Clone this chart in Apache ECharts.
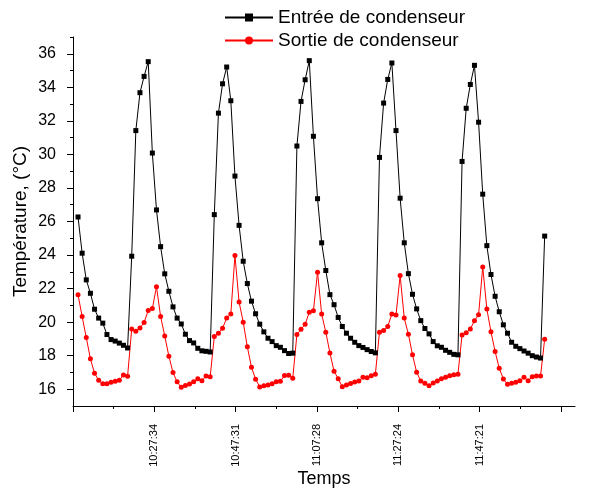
<!DOCTYPE html>
<html>
<head>
<meta charset="utf-8">
<script src="https://cdn.jsdelivr.net/npm/echarts@6/dist/echarts.min.js"></script>
<style>
  html, body { margin: 0; padding: 0; background: #fff; }
  #main { width: 603px; height: 489px; }
</style>
</head>
<body>
<div id="main"></div>
<script>
// readings about once a minute, x axis counted in seconds from 10:07:37
const seriesNames = ['Entrée de condenseur', 'Sortie de condenseur'];
const tickLabels = ['', '10:27:34', '10:47:31', '11:07:28', '11:27:24', '11:47:21', ''];
const yTickValues = [16, 18, 20, 22, 24, 26, 28, 30, 32, 34, 36];
const yMinorValues = [17, 19, 21, 23, 25, 27, 29, 31, 33, 35, 37];

const majorStep = 1197;   // seconds between labelled ticks
const firstSample = 74;   // first reading, seconds after axis origin
const sampleStep = 60.8;  // seconds between readings
const axisEnd = 7391;

const entree = [
  26.27, 24.11, 22.52, 21.72, 20.77, 20.24, 19.94, 19.26, 18.96, 18.87,
  18.75, 18.62, 18.46, 23.93, 31.42, 33.68, 34.65, 35.53, 30.08, 26.69,
  24.50, 22.88, 21.84, 20.91, 20.24, 19.89, 19.28, 18.90, 18.76, 18.44,
  18.29, 18.26, 18.22,
  26.41, 32.46, 34.21, 35.21, 33.20, 28.71, 25.77, 23.63, 22.30, 21.25,
  20.50, 19.88, 19.42, 19.04, 18.84, 18.60, 18.50, 18.30, 18.13, 18.15,
  30.50, 33.16, 34.45, 35.59, 31.08, 27.36, 24.73, 23.08, 21.64, 21.04,
  20.28, 19.74, 19.34, 19.04, 18.80, 18.60, 18.49, 18.36, 18.25, 18.17,
  29.82, 33.06, 34.47, 35.45, 31.42, 27.39, 24.73, 22.89, 21.66, 20.79,
  20.09, 19.62, 19.30, 18.84, 18.59, 18.50, 18.32, 18.20, 18.08, 18.05,
  29.58, 32.75, 34.17, 35.31, 31.92, 27.63, 24.56, 22.84, 21.54, 20.62,
  19.84, 19.34, 18.80, 18.56, 18.42, 18.28, 18.15, 18.00, 17.92, 17.86,
  25.13
];

const sortie = [
  21.64, 20.33, 19.08, 17.81, 16.95, 16.53, 16.32, 16.33, 16.42, 16.48,
  16.53, 16.85, 16.78, 19.59, 19.46, 19.65, 19.98, 20.70, 20.81, 22.11,
  20.34, 19.17, 17.97, 16.99, 16.44, 16.12, 16.22, 16.31, 16.45, 16.63,
  16.51, 16.79, 16.75,
  19.14, 19.34, 19.64, 20.24, 20.48, 23.98, 21.20, 20.00, 18.53, 17.31,
  16.60, 16.14, 16.20, 16.25, 16.33, 16.44, 16.48, 16.82, 16.84, 16.65,
  19.26, 19.57, 19.88, 20.59, 20.68, 22.98, 20.48, 19.40, 18.16, 17.07,
  16.63, 16.15, 16.25, 16.34, 16.43, 16.49, 16.72, 16.68, 16.80, 16.89,
  19.40, 19.50, 19.74, 20.49, 20.42, 22.78, 20.24, 19.28, 18.05, 17.01,
  16.49, 16.35, 16.20, 16.37, 16.49, 16.63, 16.72, 16.80, 16.87, 16.90,
  19.24, 19.36, 19.59, 20.08, 20.44, 23.29, 20.78, 19.42, 18.25, 17.25,
  16.61, 16.29, 16.35, 16.42, 16.50, 16.72, 16.51, 16.75, 16.79, 16.79,
  18.98
];

const font = 'Liberation Sans';
const toPoints = (vals) => vals.map((v, i) => [firstSample + i * sampleStep, v]);

const majorTicks = tickLabels.map((t, i) => i * majorStep);
const minorTicks = tickLabels.map((t, i) => (i + 0.5) * majorStep).filter((v) => v < axisEnd);
const labelTicks = majorTicks.filter((v, i) => tickLabels[i] !== '');

const chart = echarts.init(document.getElementById('main'));

chart.setOption({
  animation: false,
  backgroundColor: '#fff',
  textStyle: { fontFamily: font, color: '#000' },
  legend: {
    orient: 'vertical',
    left: 224,
    top: 8,
    padding: 0,
    itemWidth: 48,
    itemHeight: 10,
    itemGap: 4,
    textStyle: { fontFamily: font, fontSize: 19, color: '#000' },
    data: seriesNames
  },
  grid: { left: 73, right: 28, top: 37, bottom: 83, outerBoundsMode: 'none' },
  xAxis: [
    {
      type: 'value',
      min: 0,
      max: axisEnd,
      name: 'Temps',
      nameLocation: 'middle',
      nameGap: 64,
      nameMoveOverlap: false,
      nameTextStyle: { fontFamily: font, fontSize: 18, color: '#000' },
      axisLine: { lineStyle: { color: '#000', width: 1 } },
      axisTick: { customValues: majorTicks, length: 6, lineStyle: { color: '#000' } },
      axisLabel: {
        customValues: labelTicks,
        rotate: 90,
        margin: 18,
        fontSize: 11,
        color: '#000',
        fontFamily: font,
        formatter: (v) => tickLabels[Math.round(v / majorStep)] || ''
      },
      splitLine: { show: false }
    },
    {
      type: 'value',
      position: 'bottom',
      min: 0,
      max: axisEnd,
      axisLine: { show: false },
      axisTick: { customValues: minorTicks, length: 3, lineStyle: { color: '#000' } },
      axisLabel: { show: false },
      splitLine: { show: false }
    }
  ],
  yAxis: [
    {
      type: 'value',
      min: 15,
      max: 37,
      name: 'Température, (°C)',
      nameLocation: 'middle',
      nameGap: 43,
      nameMoveOverlap: false,
      nameTextStyle: { fontFamily: font, fontSize: 19, color: '#000' },
      axisLine: { show: true, lineStyle: { color: '#000', width: 1 } },
      axisTick: { show: true, customValues: yTickValues, length: 6, lineStyle: { color: '#000' } },
      axisLabel: {
        customValues: yTickValues,
        margin: 17,
        fontSize: 16,
        color: '#000',
        fontFamily: font
      },
      splitLine: { show: false }
    },
    {
      type: 'value',
      position: 'left',
      min: 15,
      max: 37,
      axisLine: { show: false },
      axisTick: { show: true, customValues: yMinorValues, length: 3, lineStyle: { color: '#000' } },
      axisLabel: { show: false },
      splitLine: { show: false }
    }
  ],
  series: [
    {
      name: seriesNames[0],
      type: 'line',
      data: toPoints(entree),
      symbol: 'rect',
      symbolSize: 5,
      itemStyle: { color: '#000' },
      lineStyle: { color: '#000', width: 1 }
    },
    {
      name: seriesNames[1],
      type: 'line',
      data: toPoints(sortie),
      symbol: 'circle',
      symbolSize: 5,
      itemStyle: { color: '#ff0000' },
      lineStyle: { color: '#ff0000', width: 1 }
    }
  ]
});
</script>
</body>
</html>
